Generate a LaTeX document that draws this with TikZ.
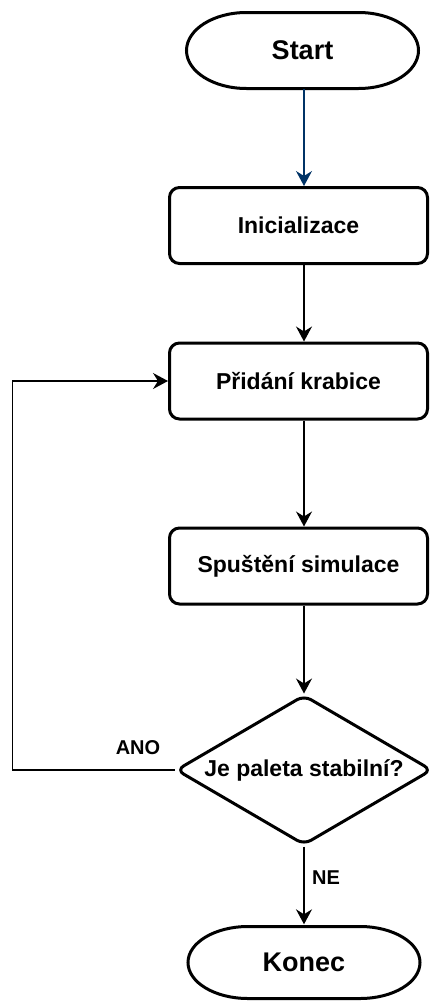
\documentclass[tikz,border=0pt]{standalone}
\usepackage{fontspec}
\setmainfont{Liberation Sans}
\usetikzlibrary{shapes.geometric,arrows.meta}
\definecolor{navy}{RGB}{0,51,102}
\begin{document}
\begin{tikzpicture}[x=1pt,y=-1pt,
  shapeline/.style={line width=3pt},
  termbox/.style={minimum width=232pt,minimum height=76pt,inner sep=0pt,font=\fontsize{27}{32}\selectfont\bfseries},
  procbox/.style={draw,shapeline,rounded corners=10pt,minimum width=258pt,minimum height=76pt,inner sep=0pt,font=\fontsize{23}{28}\selectfont\bfseries},
  decbox/.style={draw,shapeline,diamond,aspect=1.7,minimum width=256pt,minimum height=150pt,inner sep=0pt,rounded corners=8pt,font=\fontsize{23}{28}\selectfont\bfseries},
  conn/.style={line width=1.3pt,-{Stealth[length=15pt,width=16pt,inset=5pt]}},
  lbl/.style={font=\fontsize{20}{24}\selectfont\bfseries,inner sep=0pt}]
\useasboundingbox (0,0) rectangle (430,1001);
\coordinate (ax) at (304,0);
\coordinate (lx) at (12.5,0);

\node[termbox] (start) at (302.5,50.5) {Start};
\draw[shapeline, shift={(start.center)}]
  (-56,-38) -- (56,-38) .. controls (89.1,-38) and (116,-21) .. (116,0)
  .. controls (116,21) and (89.1,38) .. (56,38) -- (-56,38)
  .. controls (-89.1,38) and (-116,21) .. (-116,0)
  .. controls (-116,-21) and (-89.1,-38) .. (-56,-38) -- cycle;

\node[procbox] (init) at (298.5,225.5) {Inicializace};
\node[procbox] (add) at (298.5,381) {Přidání krabice};
\node[procbox] (sim) at (298.5,566) {Spuštění simulace};
\node[decbox] (dec) at (304,770) {Je paleta stabilní?};

\node[termbox] (end) at (304,962.5) {Konec};
\draw[shapeline, shift={(end.center)}]
  (-56,-36) -- (56,-36) .. controls (89.1,-36) and (116,-19.9) .. (116,0)
  .. controls (116,19.9) and (89.1,36) .. (56,36) -- (-56,36)
  .. controls (-89.1,36) and (-116,19.9) .. (-116,0)
  .. controls (-116,-19.9) and (-89.1,-36) .. (-56,-36) -- cycle;

\draw[conn, navy] (start.south -| ax) -- (init.north -| ax);
\draw[conn] (init.south -| ax) -- (add.north -| ax);
\draw[conn] (add.south -| ax) -- (sim.north -| ax);
\draw[conn] (sim.south -| ax) -- (dec.north);
\draw[conn] (dec.south) -- (end.north);
\draw[conn] (dec.west) -- (dec.west -| lx) |- (add.west);

\node[lbl] (ano) at (138,748) {ANO};
\node[lbl] (ne) at (326,878) {NE};
\end{tikzpicture}
\end{document}
